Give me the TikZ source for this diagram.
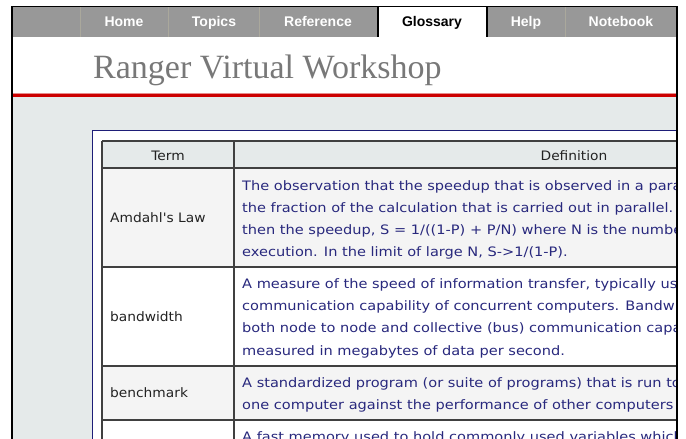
\documentclass[tikz,border=0pt]{standalone}
\usepackage{fontspec}
\setmainfont{DejaVu Sans}
\newfontfamily\deffont{DejaVu Sans}[FakeStretch=1.12]
\newfontfamily\termfont{DejaVu Sans}[FakeStretch=1.06]
\newfontfamily\titlefont{Liberation Serif}
\newfontfamily\tabfont{Liberation Sans}
\definecolor{bargray}{RGB}{152,152,152}
\definecolor{sepgray}{RGB}{170,168,156}
\definecolor{pagebg}{RGB}{229,234,234}
\definecolor{redline}{RGB}{204,0,0}
\definecolor{pinkline}{RGB}{230,140,140}
\definecolor{navy}{RGB}{30,30,120}
\definecolor{rowgray}{RGB}{244,244,244}
\definecolor{headgray}{RGB}{229,234,234}
\definecolor{tline}{RGB}{64,64,64}
\definecolor{deftext}{RGB}{40,40,125}
\definecolor{termtext}{RGB}{34,34,34}
\definecolor{titlegray}{RGB}{120,120,120}
\tikzset{
  tablabel/.style={font=\tabfont\bfseries\fontsize{14}{16}\selectfont, text=white, inner sep=0pt, anchor=base},
  deftxt/.style={font=\deffont\fontsize{13}{16}\selectfont, text=deftext, inner sep=0pt, anchor=base west},
  termtxt/.style={font=\termfont\fontsize{13}{16}\selectfont, text=termtext, inner sep=0pt, anchor=base west},
  headtxt/.style={font=\termfont\fontsize{13}{16}\selectfont, text=termtext, inner sep=0pt, anchor=base},
  tabline/.style={draw=tline, line width=1.5pt},
}
\begin{document}
\begin{tikzpicture}[x=1pt,y=-1pt]
\useasboundingbox (0,0) rectangle (686,439);
\fill[white] (0,0) rectangle (686,439);
\begin{scope}
\clip (12,7) rectangle (677,439);
% tab bar
\fill[bargray] (12,7) rectangle (677,37);
\foreach \sx in {80,168,259,565} \draw[sepgray, line width=0.8pt] (\sx,7) -- (\sx,37);
\fill[white] (378,7) rectangle (487,37);
\draw[black, line width=1.2pt] (378,6) -- (378,37);
\draw[black, line width=1.2pt] (487,6) -- (487,37);
\node[tablabel] (home) at (124,26) {Home};
\node[tablabel] (topics) at (214,26) {Topics};
\node[tablabel] (reference) at (318,26) {Reference};
\node[tablabel, text=black] (glossary) at (432,26) {Glossary};
\node[tablabel] (help) at (526,26) {Help};
\node[tablabel] (notebook) at (621,26) {Notebook};
% title
\node[font=\titlefont\fontsize{34}{40}\selectfont, text=titlegray, inner sep=0pt, anchor=base west] (title) at (93,78) {Ranger Virtual Workshop};
% red line and page background
\fill[pagebg] (12,96) rectangle (677,439);
\fill[redline] (12,93.5) rectangle (677,96.5);
\draw[pinkline, line width=0.6pt] (12,93) -- (677,93);
% content box
\filldraw[fill=white, draw=navy, line width=1pt] (92,130) rectangle (720,460);
% table rows
\fill[headgray] (102,141) rectangle (720,168);
\fill[rowgray] (102,168) rectangle (720,267);
\fill[white] (102,267) rectangle (720,366);
\fill[rowgray] (102,366) rectangle (720,420);
\fill[white] (102,420) rectangle (720,460);
\foreach \ry in {141,168,267,366,420} \draw[tabline] (102,\ry) -- (720,\ry);
\draw[tabline] (102,141) -- (102,460);
\draw[tabline] (234,141) -- (234,460);
% header
\node[headtxt] (termhead) at (168,160) {Term};
\node[headtxt] (defhead) at (574,160) {Definition};
% row 1
\node[termtxt] (amdahl) at (110,222.5) {Amdahl{\char39}s Law};
\node[deftxt] (a1) at (242,190) {The observation that the speedup that is observed in a parallel};
\node[deftxt] (a2) at (242,212.3) {the fraction of the calculation that is carried out in parallel. If};
\node[deftxt] (a3) at (242,234.5) {then the speedup, S = 1/((1-P) + P/N) where N is the number};
\node[deftxt] (a4) at (242,256.7) {execution. In the limit of large N, S->1/(1-P).};
% row 2
\node[termtxt] (bandwidth) at (110,321.7) {bandwidth};
\node[deftxt] (b1) at (242,288.3) {A measure of the speed of information transfer, typically used};
\node[deftxt] (b2) at (242,310.5) {communication capability of concurrent computers. Bandwidth};
\node[deftxt] (b3) at (242,332.7) {both node to node and collective (bus) communication capacity};
\node[deftxt] (b4) at (242,355) {measured in megabytes of data per second.};
% row 3
\node[termtxt] (benchmark) at (110,397.7) {benchmark};
\node[deftxt] (c1) at (242,387.3) {A standardized program (or suite of programs) that is run to};
\node[deftxt] (c2) at (242,409.5) {one computer against the performance of other computers r};
% row 4
\node[deftxt] (d1) at (242,441.5) {A fast memory used to hold commonly used variables which};
\end{scope}
% black frame
\draw[black, line width=1.6pt] (12,439) -- (12,6.5) -- (677,6.5) -- (677,439);
\end{tikzpicture}
\end{document}
